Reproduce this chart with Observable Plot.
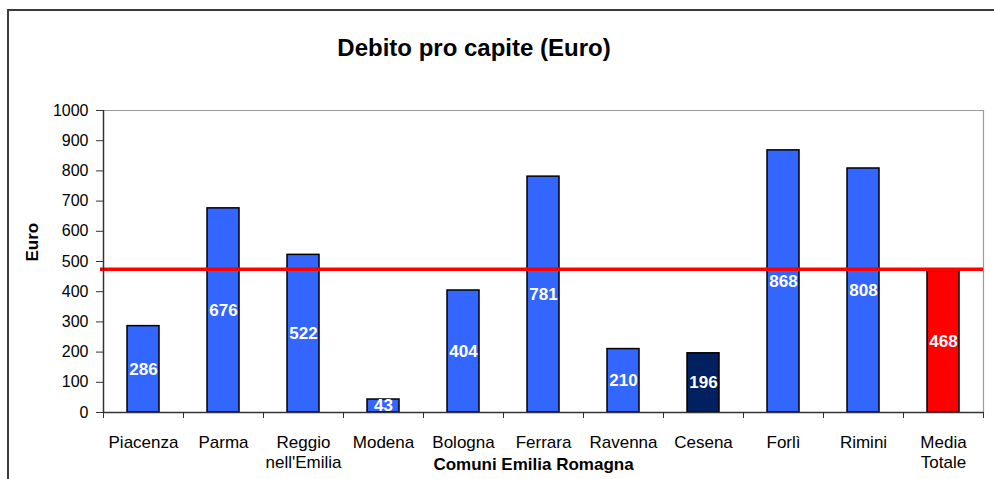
<!DOCTYPE html>
<html>
<head>
<meta charset="utf-8">
<script src="https://cdn.jsdelivr.net/npm/d3@7"></script>
<script src="https://cdn.jsdelivr.net/npm/@observablehq/plot@0.6"></script>
<style>
  html, body { margin: 0; padding: 0; background: #fff; overflow: hidden; }
  #wrap { position: relative; width: 994px; height: 479px; font-family: "Liberation Sans", Arial, sans-serif; }
  #frame { position: absolute; left: 7px; top: 9px; width: 2000px; height: 2000px; border-left: 2px solid #3a3a3a; border-top: 2px solid #3a3a3a; }
  #title { position: absolute; left: 474px; top: 36px; transform: translateX(-50%); font-size: 24px; font-weight: bold; line-height: 1; white-space: nowrap; color: #000; }
  #chart { position: absolute; left: 0; top: 0; }
</style>
</head>
<body>
<div id="wrap">
  <div id="frame"></div>
  <div id="title">Debito pro capite (Euro)</div>
  <div id="chart"></div>
</div>
<script>
const categories = ["Piacenza", "Parma", "Reggio\nnell'Emilia", "Modena", "Bologna", "Ferrara", "Ravenna", "Cesena", "Forlì", "Rimini", "Media\nTotale"];
const values = [286, 676, 522, 43, 404, 781, 210, 196, 868, 808, 468];
const averageLine = 474;
const yTicks = [0, 100, 200, 300, 400, 500, 600, 700, 800, 900, 1000];

const data = categories.map((c, i) => ({ c, i, v: values[i] }));
const fillFor = d => d.c === "Cesena" ? "#002060" : (d.c === "Media\nTotale" ? "#ff0000" : "#3366ff");

const chart = Plot.plot({
  width: 994,
  height: 479,
  marginLeft: 103,
  marginRight: 11,
  marginTop: 110,
  marginBottom: 67,
  x: { domain: [0, categories.length], axis: null },
  y: { domain: [0, 1000], axis: null },
  style: { fontFamily: "'Liberation Sans', Arial, sans-serif", background: "transparent", color: "#000" },
  marks: [
    Plot.ruleY([1000], { stroke: "#9a9a9a", strokeWidth: 1.2 }),
    Plot.ruleX([categories.length], { stroke: "#9a9a9a", strokeWidth: 1.2 }),
    Plot.rectY(data, {
      x1: "i", x2: d => d.i + 1, y1: 0, y2: "v",
      insetLeft: 24, insetRight: 24,
      fill: fillFor, stroke: "#000", strokeWidth: 1.5
    }),
    Plot.ruleY([averageLine], { stroke: "#ff0000", strokeWidth: 3.5, insetLeft: -3 }),
    Plot.text(data, {
      x: d => d.i + 0.5, y: d => d.v / 2, text: d => String(d.v),
      fill: "#fff", fontWeight: "bold", fontSize: 17
    }),
    Plot.axisY(yTicks, { tickSize: 7, tickPadding: 8, fontSize: 16, label: null, stroke: "#333", tickFormat: d => String(d) }),
    Plot.axisX(d3.range(categories.length + 1), { tickSize: 6, tickFormat: () => "", label: null, stroke: "#333" }),
    Plot.ruleX([0], { stroke: "#333", strokeWidth: 1.5 }),
    Plot.ruleY([0], { stroke: "#333", strokeWidth: 1.5 }),
    Plot.text(data, {
      x: d => d.i + 0.5, y: 0, text: "c",
      dy: 21, lineAnchor: "top", lineHeight: 1.2, fontSize: 17, fill: "#000"
    }),
    Plot.text(["Comuni Emilia Romagna"], {
      frameAnchor: "bottom", dx: -10, dy: 45, lineAnchor: "top",
      fontWeight: "bold", fontSize: 17, fill: "#000"
    }),
    Plot.text(["Euro"], {
      frameAnchor: "left", dx: -71, rotate: -90,
      fontWeight: "bold", fontSize: 17, fill: "#000"
    })
  ]
});
document.getElementById("chart").appendChild(chart);
</script>
</body>
</html>
